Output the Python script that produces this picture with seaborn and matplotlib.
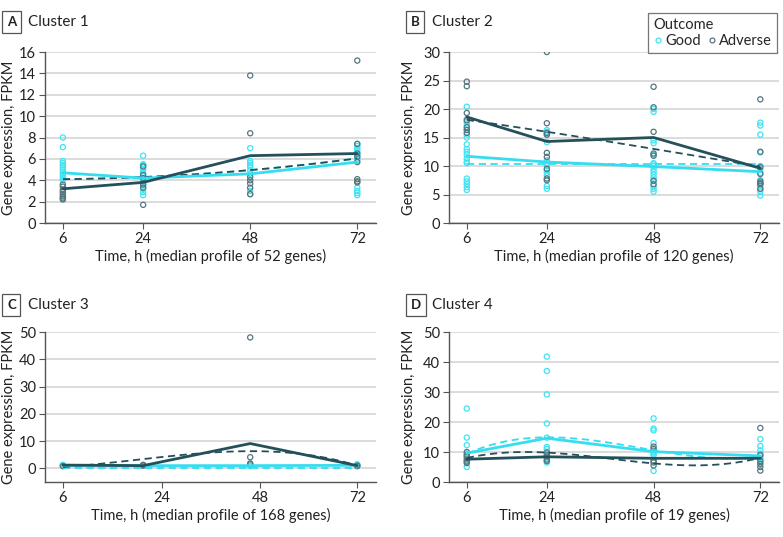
import numpy as np
import pandas as pd
import matplotlib
matplotlib.use("Agg")
import matplotlib.pyplot as plt
from matplotlib.lines import Line2D
import seaborn as sns

sns.set_theme(style="white")
plt.rcParams['font.family'] = ['Lato', 'DejaVu Sans']

times = [6, 24, 48, 72]
outcomes = ["Good", "Adverse"]

# ---------------- Cluster 1 ----------------
c1_good_pts = {
    6: [8.0, 7.1, 5.8, 5.6, 5.4, 5.2, 5.0, 4.8, 4.6, 4.4, 4.2, 4.0, 2.4],
    24: [6.3, 5.5, 5.4, 5.2, 5.0, 4.7, 4.4, 4.1, 3.8, 3.5, 3.2, 2.9, 2.6],
    48: [7.0, 5.8, 5.6, 5.4, 5.2, 4.9, 4.6, 3.0, 2.7],
    72: [7.4, 7.2, 7.0, 6.8, 6.6, 6.4, 6.2, 6.0, 5.8, 3.3, 3.0, 2.8, 2.6],
}
c1_adv_pts = {
    6: [3.6, 3.4, 3.1, 2.9, 2.7, 2.5, 2.3, 2.2],
    24: [5.3, 4.5, 4.2, 3.6, 3.3, 1.7],
    48: [13.8, 8.4, 4.3, 4.0, 3.7, 3.3, 2.7],
    72: [15.2, 7.4, 6.5, 6.2, 5.7, 4.1, 3.9, 3.8],
}
c1_good_med = [4.7, 4.2, 4.6, 5.7]
c1_adv_med = [3.2, 3.8, 6.3, 6.5]
c1_good_fit = [4.1, 4.3, 4.95, 6.05]
c1_adv_fit = [4.1, 4.3, 4.95, 6.05]

# ---------------- Cluster 2 ----------------
c2_good_pts = {
    6: [20.4, 18.2, 17.7, 17.2, 16.4, 15.5, 15.0, 13.8, 13.0, 12.5, 12.0, 11.3, 10.8, 10.5, 7.8, 7.3, 6.8, 6.3, 5.8],
    24: [16.3, 16.0, 15.5, 14.2, 11.0, 10.5, 10.0, 9.3, 8.8, 8.3, 6.5, 6.0],
    48: [20.0, 19.5, 14.5, 14.0, 12.0, 10.5, 10.3, 10.0, 9.5, 9.0, 8.5, 8.0, 7.5, 6.5, 6.0, 5.5],
    72: [17.6, 17.1, 15.5, 12.4, 10.0, 9.5, 8.8, 7.5, 7.0, 6.5, 6.0, 5.5, 4.8],
}
c2_adv_pts = {
    6: [24.8, 24.0, 19.3, 18.0, 16.8, 16.3, 15.8],
    24: [30.0, 17.5, 15.8, 15.5, 12.3, 11.6, 9.5, 7.8, 7.5],
    48: [23.9, 20.3, 16.0, 12.2, 11.8, 7.4, 6.8],
    72: [21.7, 12.5, 9.8, 8.6, 7.3, 7.0, 6.8, 6.0],
}
c2_good_med = [11.7, 10.7, 9.9, 9.0]
c2_adv_med = [18.6, 14.3, 15.0, 9.6]
c2_good_fit = [10.35, 10.35, 10.35, 10.35]
c2_adv_fit = [18.1, 16.0, 13.0, 9.9]

# ---------------- Cluster 3 ----------------
c3_good_pts = {
    6: [1.3, 1.0],
    24: [1.1],
    48: [1.0, 0.8],
    72: [1.5, 1.2],
}
c3_adv_pts = {
    6: [0.8],
    24: [1.3, 1.0],
    48: [48.0, 4.1, 1.8, 1.5],
    72: [1.0, 0.8],
}
c3_good_med = [1.1, 1.0, 1.0, 1.1]
c3_adv_med = [1.2, 1.0, 9.1, 1.0]
c3_good_fit = [0.3, 0.3, 0.3, 0.3]
c3_adv_fit = [0.5, 3.4, 6.3, 1.0]

# ---------------- Cluster 4 ----------------
c4_good_pts = {
    6: [24.5, 14.8, 12.3, 9.5, 8.0, 7.0, 5.0],
    24: [41.8, 37.0, 29.2, 19.5, 14.8, 11.7, 11.0, 10.0, 8.0, 7.0, 6.5],
    48: [21.2, 17.8, 17.2, 13.0, 10.5, 10.0, 9.5, 9.0, 3.7],
    72: [14.3, 12.0, 10.5, 9.5, 8.7, 8.0, 7.5, 6.5],
}
c4_adv_pts = {
    6: [10.0, 9.0, 8.5, 7.5, 6.8, 6.3],
    24: [9.8, 9.0, 8.5, 7.5, 7.0],
    48: [11.8, 11.0, 7.0, 6.5, 5.5],
    72: [18.0, 9.0, 7.0, 6.0, 5.0, 3.8],
}
c4_good_med = [9.6, 14.6, 10.1, 8.7]
c4_adv_med = [7.6, 8.4, 7.9, 7.9]
c4_good_fit = [9.4, 14.9, 10.6, 8.3]
c4_adv_fit = [8.0, 9.8, 6.2, 8.1]

panels = [
    dict(letter="A", title="Cluster 1", genes=52, gp=c1_good_pts, ap=c1_adv_pts,
         gm=c1_good_med, am=c1_adv_med, gf=c1_good_fit, af=c1_adv_fit,
         ylim=(0, 16), yticks=[0, 2, 4, 6, 8, 10, 12, 14, 16]),
    dict(letter="B", title="Cluster 2", genes=120, gp=c2_good_pts, ap=c2_adv_pts,
         gm=c2_good_med, am=c2_adv_med, gf=c2_good_fit, af=c2_adv_fit,
         ylim=(0, 30), yticks=[0, 5, 10, 15, 20, 25, 30]),
    dict(letter="C", title="Cluster 3", genes=168, gp=c3_good_pts, ap=c3_adv_pts,
         gm=c3_good_med, am=c3_adv_med, gf=c3_good_fit, af=c3_adv_fit,
         ylim=(-5, 50), yticks=[0, 10, 20, 30, 40, 50]),
    dict(letter="D", title="Cluster 4", genes=19, gp=c4_good_pts, ap=c4_adv_pts,
         gm=c4_good_med, am=c4_adv_med, gf=c4_good_fit, af=c4_adv_fit,
         ylim=(0, 50), yticks=[0, 10, 20, 30, 40, 50]),
]

GOOD_LINE = "#36DDF0"
ADV_LINE = "#24505A"
GOOD_PT = "#3FE4F4"
ADV_PT = "#55767E"
GRID = "#D9D9D9"
SPINE = "#555555"

W, H = 783, 537
fig = plt.figure(figsize=(W / 100, H / 100), dpi=100)

# axes boxes in pixels (left, top, right, bottom)
boxes = [(45, 52, 376, 223), (449, 52, 779, 223), (45, 332, 376, 482), (449, 332, 779, 482)]
label_pos = [(4, 22), (408, 22), (4, 305), (408, 305)]
ylab_off = [29, 33, 29, 33]

for p, (l, t, r, b), (lx, ly), yo in zip(panels, boxes, label_pos, ylab_off):
    ax = fig.add_axes([l / W, 1 - b / H, (r - l) / W, (b - t) / H])
    rows = []
    for tm in times:
        for v in p["gp"][tm]:
            rows.append((tm, v, "Good"))
        for v in p["ap"][tm]:
            rows.append((tm, v, "Adverse"))
    df = pd.DataFrame(rows, columns=["time", "value", "outcome"])
    sns.scatterplot(data=df, x="time", y="value", hue="outcome", hue_order=outcomes,
                    palette={"Good": GOOD_PT, "Adverse": ADV_PT}, s=14, linewidth=0.9,
                    legend=False, ax=ax, zorder=3)
    for coll in ax.collections:
        fc = coll.get_facecolors()
        coll.set_edgecolors(fc)
        coll.set_facecolors("none")

    # fitted (dashed) trend curves
    sns.regplot(x=np.array(times, float), y=np.array(p["gf"], float), order=3, ci=None,
                scatter=False, ax=ax, line_kws=dict(color=GOOD_LINE, lw=1.3, ls=(0, (4, 2.5)), zorder=4))
    sns.regplot(x=np.array(times, float), y=np.array(p["af"], float), order=3, ci=None,
                scatter=False, ax=ax, line_kws=dict(color=ADV_LINE, lw=1.3, ls=(0, (4, 2.5)), zorder=5))

    med = pd.DataFrame({"time": times * 2,
                        "value": list(p["gm"]) + list(p["am"]),
                        "outcome": ["Good"] * 4 + ["Adverse"] * 4})
    sns.lineplot(data=med, x="time", y="value", hue="outcome", hue_order=outcomes,
                 palette={"Good": GOOD_LINE, "Adverse": ADV_LINE}, lw=2.0, legend=False,
                 ax=ax, zorder=6, estimator=None)

    ax.set_xlim(2, 76.2)
    ax.set_ylim(*p["ylim"])
    ax.set_yticks(p["yticks"])
    if p["letter"] == "C":
        ax.set_xticks([6, 28.2, 50.2, 72], labels=["6", "24", "48", "72"])
    else:
        ax.set_xticks(times, labels=[str(t) for t in times])
    ax.yaxis.grid(True, color=GRID, lw=1.3)
    ax.xaxis.grid(False)
    ax.set_axisbelow(True)
    for s in ["top", "right"]:
        ax.spines[s].set_visible(False)
    for s in ["left", "bottom"]:
        ax.spines[s].set_color(SPINE)
        ax.spines[s].set_linewidth(1.0)
    ax.tick_params(axis="both", which="both", length=4, width=0.8, color=SPINE,
                   labelsize=10.5, labelcolor="#222222", pad=2.5, bottom=True, left=True)
    ax.set_xlabel(f"Time, h (median profile of {p['genes']} genes)", fontsize=10.5, color="#222222", labelpad=2)
    ax.set_ylabel("Gene expression, FPKM", fontsize=10.5, color="#222222")
    ax.yaxis.set_label_coords(-float(yo) / (r - l), 0.5)

    fig.text((lx + 3) / W, 1 - ly / H, p["letter"], fontsize=9.5, fontweight="bold", va="center",
             ha="left", color="#222222",
             bbox=dict(boxstyle="square,pad=0.35", fc="white", ec="#555555", lw=0.9))
    fig.text((lx + 24) / W, 1 - ly / H, p["title"], fontsize=11, va="center", ha="left", color="#222222")

handles = [Line2D([], [], ls="none", marker="o", ms=3.5, mfc="none", mec=GOOD_PT, mew=0.9),
           Line2D([], [], ls="none", marker="o", ms=3.5, mfc="none", mec=ADV_PT, mew=0.9)]
leg = fig.legend(handles, outcomes, title="Outcome", ncol=2, loc="upper right",
                 bbox_to_anchor=(777 / W, 1 - 13 / H), frameon=True, fancybox=False,
                 fontsize=10.5, title_fontsize=10.5, handletextpad=0.2, columnspacing=0.45,
                 handlelength=0.6, borderpad=0.35, borderaxespad=0.0, labelspacing=0.15,
                 alignment="left")
leg.get_frame().set_edgecolor("#555555")
leg.get_frame().set_linewidth(0.9)

fig.savefig("out.png", dpi=100)
